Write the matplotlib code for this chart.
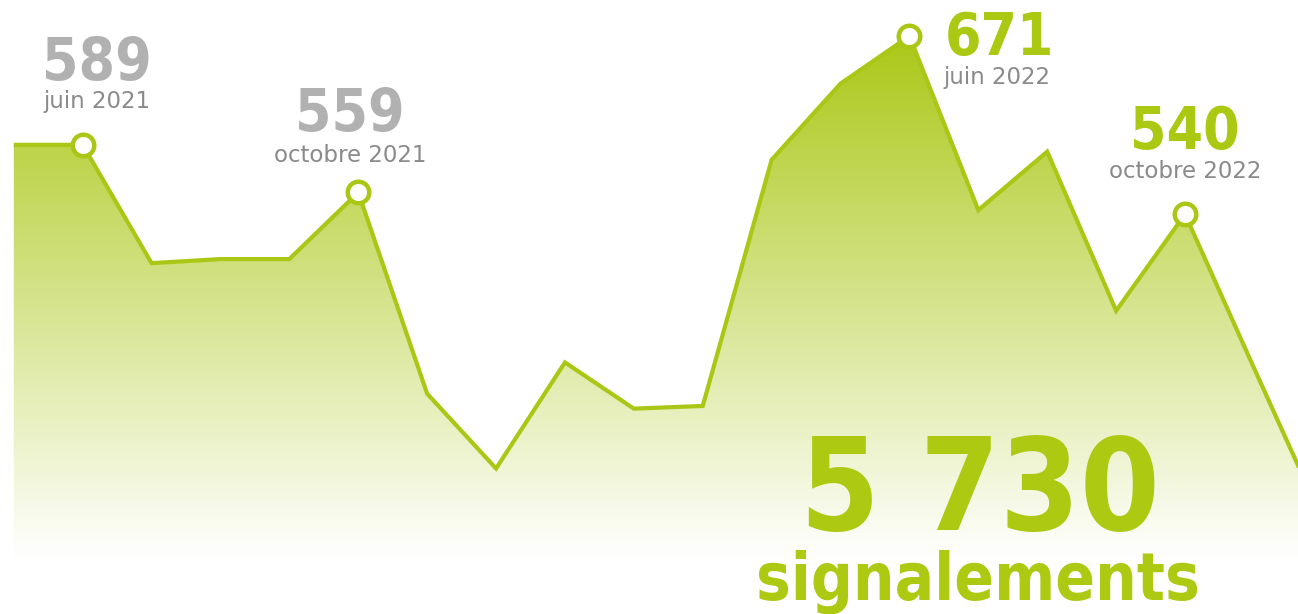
import numpy as np
import matplotlib
matplotlib.use("Agg")
import matplotlib.pyplot as plt
from matplotlib.colors import LinearSegmentedColormap

# Monthly reports (mai 2021 -> déc 2022, last ones partly off-frame)
months = ["mai 2021", "juin 2021", "juil. 2021", "août 2021", "sept. 2021", "octobre 2021",
          "nov. 2021", "déc. 2021", "janv. 2022", "févr. 2022", "mars 2022", "avr. 2022",
          "mai 2022", "juin 2022", "juil. 2022", "août 2022", "sept. 2022", "octobre 2022",
          "nov. 2022", "déc. 2022"]
values = [591, 591, 504, 507, 507, 556, 408, 353, 431, 397, 399, 580,
          636, 671, 543, 586, 469, 540, 427, 315]
highlight_idx = [1, 5, 13, 17]
highlight_labels = ["589", "559", "671", "540"]
highlight_colors = ["#b1b1b1", "#b1b1b1", "#abc813", "#abc813"]
total_text = "5 730"
total_label = "signalements"

GREEN = "#a9c714"
GRAY_TXT = "#8a8a8a"

W, H, DPI = 1298, 614, 100
fig = plt.figure(figsize=(W / DPI, H / DPI), dpi=DPI)
ax = fig.add_axes([0, 0, 1, 1])
ax.set_axis_off()

x = np.arange(len(values))
y = np.array(values, dtype=float)

xmin, xmax = -0.2, 18.64
ymin, ymax = 246.0, 697.5
ax.set_xlim(xmin, xmax)
ax.set_ylim(ymin, ymax)

# vertical gradient fill clipped to the area under the line
top_v, bot_v = 671.0, ymax - (560 / 614) * (ymax - ymin)
grad_y = np.linspace(ymin, ymax, 400)
t = np.clip((grad_y - bot_v) / (top_v - bot_v), 0, 1)
cmap = LinearSegmentedColormap.from_list("g", ["#ffffff", "#abc818"])
img = ax.imshow(t[:, None], extent=[xmin, xmax, ymin, ymax], origin="lower",
                aspect="auto", cmap=cmap, vmin=0, vmax=1, zorder=1)
poly = ax.fill_between(x, y, ymin, color="none", lw=0)
path = poly.get_paths()[0]
img.set_clip_path(path, transform=ax.transData)

ax.plot(x, y, color=GREEN, lw=3.0, solid_joinstyle="miter", solid_capstyle="butt", zorder=3)
ax.plot(x[highlight_idx], y[highlight_idx], "o", ms=15.5, mfc="white",
        mec=GREEN, mew=3.2, zorder=4)

# labels for highlighted points: (dx_num, dy_num, dx_date, dy_date) in pixels
offsets = {1: (14, 65, 14, 37), 5: (-8, 61, -8, 30), 13: (90, -19, 88, -48), 17: (0, 65, 0, 36)}
for i, lab, c in zip(highlight_idx, highlight_labels, highlight_colors):
    dxn, dyn, dxd, dyd = offsets[i]
    ax.annotate(lab, (x[i], y[i]), xytext=(dxn * 72 / DPI, dyn * 72 / DPI),
                textcoords="offset points", ha="center", va="baseline",
                fontsize=42, fontweight="bold", fontstretch="condensed", color=c,
                family="DejaVu Sans", zorder=5)
    ax.annotate(months[i], (x[i], y[i]), xytext=(dxd * 72 / DPI, dyd * 72 / DPI),
                textcoords="offset points", ha="center", va="baseline",
                fontsize=16.5, color=GRAY_TXT, family="DejaVu Sans", zorder=5)

fig.text(980 / W, 1 - 530 / H, total_text, ha="center", va="baseline",
         fontsize=92, fontweight="bold", fontstretch="condensed", color="#adc912",
         family="DejaVu Sans")
fig.text(978 / W, 1 - 600 / H, total_label, ha="center", va="baseline",
         fontsize=47, fontweight="bold", fontstretch="condensed", color="#adc912",
         family="DejaVu Sans")

fig.savefig("out.png", dpi=DPI, facecolor="white")
